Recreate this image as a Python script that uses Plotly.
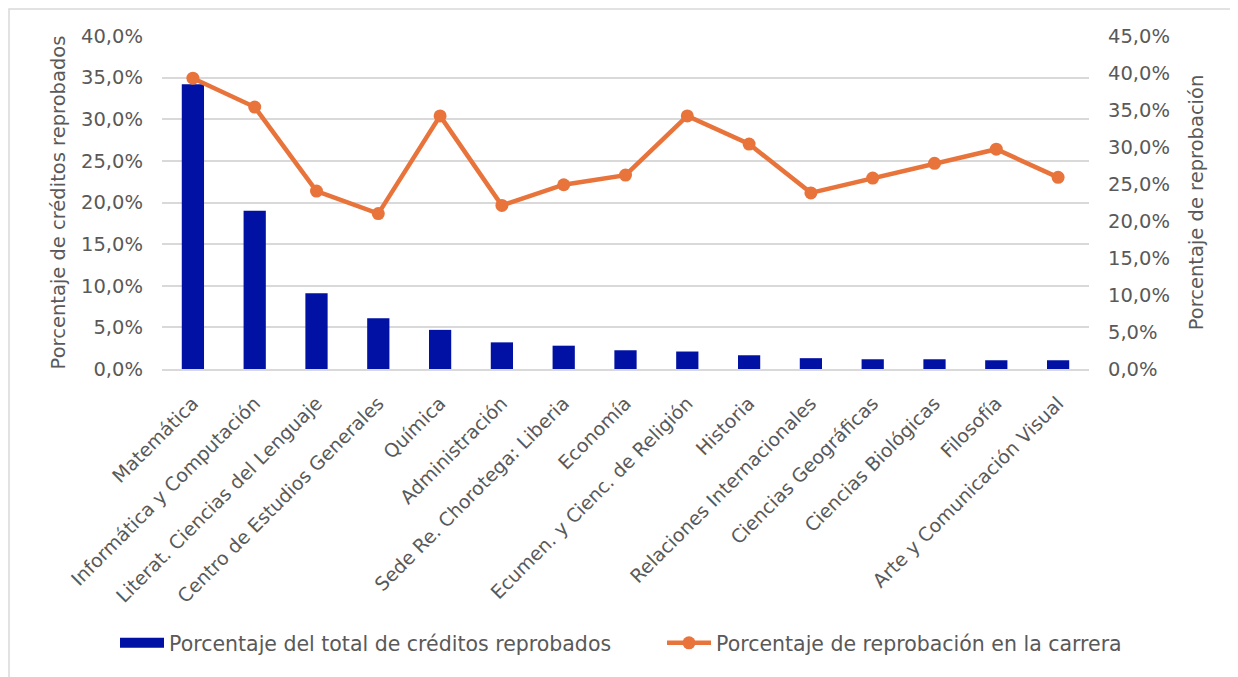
import plotly.graph_objects as go

categories = ["Matemática", "Informática y Computación", "Literat. Ciencias del Lenguaje",
              "Centro de Estudios Generales", "Química", "Administración",
              "Sede Re. Chorotega: Liberia", "Economía", "Ecumen. y Cienc. de Religión",
              "Historia", "Relaciones Internacionales", "Ciencias Geográficas",
              "Ciencias Biológicas", "Filosofía", "Arte y Comunicación Visual"]
pct_total_creditos = [0.342, 0.190, 0.091, 0.061, 0.047, 0.032, 0.028, 0.0225, 0.021,
                      0.0165, 0.013, 0.0117, 0.0117, 0.0105, 0.0105]
pct_reprobacion = [0.393, 0.354, 0.2405, 0.210, 0.342, 0.221, 0.249, 0.262, 0.342,
                   0.304, 0.238, 0.258, 0.278, 0.297, 0.259]

left_ticks = [i * 0.05 for i in range(9)]
right_ticks = [i * 0.05 for i in range(10)]

FONT = "DejaVu Sans"
GRAY = "#595959"
BLUE = "#0011A3"
ORANGE = "#E8743B"
BAR_NAME = "Porcentaje del total de créditos reprobados"
LINE_NAME = "Porcentaje de reprobación en la carrera"

fig = go.Figure()
fig.add_trace(go.Bar(x=categories, y=pct_total_creditos, name=BAR_NAME,
                     marker=dict(color=BLUE, line=dict(width=0)), width=0.36,
                     showlegend=False))
# legend-only entry imitating the wide rectangular bar swatch
fig.add_trace(go.Scatter(x=[None], y=[None], name=BAR_NAME, mode="lines",
                         line=dict(color=BLUE, width=13), legend="legend"))
fig.add_trace(go.Scatter(x=categories, y=pct_reprobacion, yaxis="y2", name=LINE_NAME,
                         mode="lines+markers",
                         line=dict(color=ORANGE, width=4.5),
                         marker=dict(color=ORANGE, size=13), legend="legend2"))

# page body has an 8px margin: screen coords = figure coords + 8
OFF = 8
SW, SH = 1238, 677
W, H = SW - OFF, SH - OFF
L, R, T, B = 162, 1089, 36, 369  # plot area in screen coords

def px_to_paper_x(sx):
    return (sx - L) / (R - L)

def px_to_paper_y(sy):
    return (B - sy) / (B - T)

legend_common = dict(orientation="h", xanchor="left", yanchor="middle",
                     y=px_to_paper_y(643), font=dict(size=20.5, color=GRAY),
                     itemwidth=44, bgcolor="rgba(0,0,0,0)")

fig.update_layout(
    width=W, height=H,
    margin=dict(l=L - OFF, r=SW - R, t=T - OFF, b=SH - B, autoexpand=False),
    paper_bgcolor="white", plot_bgcolor="white",
    separators=",.",
    font=dict(family=FONT, color=GRAY, size=16),
    xaxis=dict(tickangle=-45, tickfont=dict(size=19, color=GRAY), showgrid=False,
               range=[-0.5, len(categories) - 0.5],
               showline=True, linecolor="#D9D9D9", linewidth=1.5, ticks="",
               ticklabelstandoff=14, automargin=False),
    yaxis=dict(range=[0, 0.40], tickvals=left_ticks, tickformat=".1%",
               showgrid=True, gridcolor="#D9D9D9", gridwidth=1.5, zeroline=False,
               tickfont=dict(size=19.5, color=GRAY), automargin=False,
               ticklabelstandoff=18,
               title=dict(text="Porcentaje de créditos reprobados",
                          font=dict(size=19.5, color=GRAY), standoff=10)),
    yaxis2=dict(range=[0, 0.45], tickvals=right_ticks, tickformat=".1%",
                overlaying="y", side="right", showgrid=False, zeroline=False,
                tickfont=dict(size=19.5, color=GRAY), automargin=False,
                ticklabelstandoff=18,
                title=dict(text="Porcentaje de reprobación",
                           font=dict(size=19.5, color=GRAY), standoff=20)),
    legend=dict(x=px_to_paper_x(115), **legend_common),
    legend2=dict(x=px_to_paper_x(662), **legend_common),
    showlegend=True,
    shapes=[dict(type="rect", xref="paper", yref="paper",
                 x0=px_to_paper_x(OFF + 1), x1=px_to_paper_x(SW + 10),
                 y0=px_to_paper_y(SH + 20), y1=px_to_paper_y(OFF + 1),
                 line=dict(color="#D9D9D9", width=1.5), fillcolor="rgba(0,0,0,0)",
                 layer="below")],
)

fig.write_html("out.html")
